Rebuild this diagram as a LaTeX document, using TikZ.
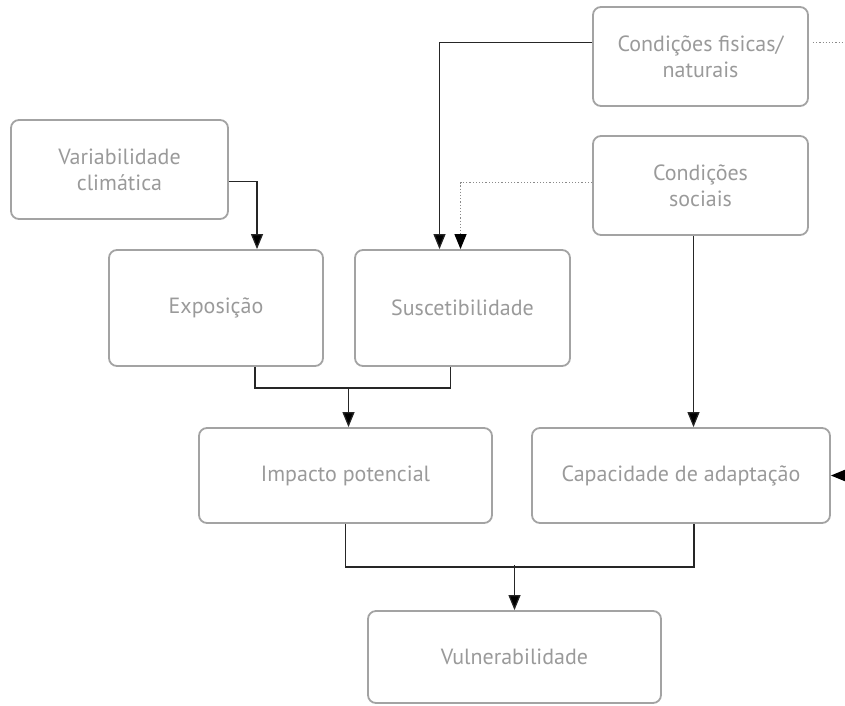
\documentclass[tikz,border=0pt]{standalone}
\usepackage{fontspec}
\setmainfont{PT Sans}
\usetikzlibrary{arrows.meta,calc}
\definecolor{boxgray}{HTML}{A3A3A3}
\definecolor{txtgray}{HTML}{9A9A9A}
\definecolor{dotgray}{HTML}{8A8A8A}
\begin{document}
\begin{tikzpicture}[x=1pt,y=-1pt,
  box/.style={draw=boxgray,line width=1.8pt,rounded corners=8pt,inner sep=0pt,
    align=center,text=txtgray,font=\fontsize{22}{26}\selectfont},
  lnk/.style={draw=black!85,line width=1.2pt},
  conn/.style={lnk,-{Triangle[width=12pt,length=15pt,fill=black]}},
  dotl/.style={draw=dotgray,line width=1.2pt,dotted},
  dotconn/.style={dotl,-{Triangle[width=12pt,length=15pt,fill=black,color=black]}}]
\useasboundingbox (0,0) rectangle (845,705);
\node[box,minimum width=217pt,minimum height=99pt] (var) at (119.5,169.5) {Variabilidade\\climática};
\node[box,minimum width=214pt,minimum height=116pt] (expo) at (216,308) {Exposição};
\node[box,minimum width=215pt,minimum height=116pt] (susc) at (462.5,308) {Suscetibilidade};
\node[box,minimum width=215pt,minimum height=99pt] (fis) at (700.5,56.5) {Condições fisicas/\\naturais};
\node[box,minimum width=215pt,minimum height=99pt] (soc) at (700.5,185.5) {Condições\\sociais};
\node[box,minimum width=293pt,minimum height=95pt] (imp) at (345.5,475.5) {Impacto potencial};
\node[box,minimum width=298pt,minimum height=95pt] (cap) at (681,475.5) {Capacidade de adaptação};
\node[box,minimum width=293pt,minimum height=92pt] (vul) at (514.5,657) {Vulnerabilidade};
% connectors
\draw[conn] ($(var.east)+(0,12)$) -| ($(expo.north)+(41,0)$);
\draw[conn] ($(fis.west)+(0,-14)$) -| ($(susc.north)+(-23,0)$);
\draw[dotconn] ($(soc.west)+(0,-3)$) -| ($(susc.north)+(-2,0)$);
\draw[conn] ($(soc.south)+(-7,0)$) coordinate (s1) -- (s1 |- cap.north);
\draw[lnk] ($(expo.south)+(39,0)$) -- ++(0,21) -| ($(susc.south)+(-12,0)$);
\draw[conn] ($(imp.north)+(3,-40)$) -- ($(imp.north)+(3,0)$);
\draw[lnk] (imp.south) -- ++(0,43) -| ($(cap.south)+(13,0)$);
\draw[conn] ($(vul.north)+(0,-45)$) -- (vul.north);
\draw[dotl] ($(fis.east)+(4,-14)$) -- ($(fis.east)+(40,-14)$);
\draw[dotconn] ($(cap.east)+(16,0)$) -- (cap.east);
\end{tikzpicture}
\end{document}
